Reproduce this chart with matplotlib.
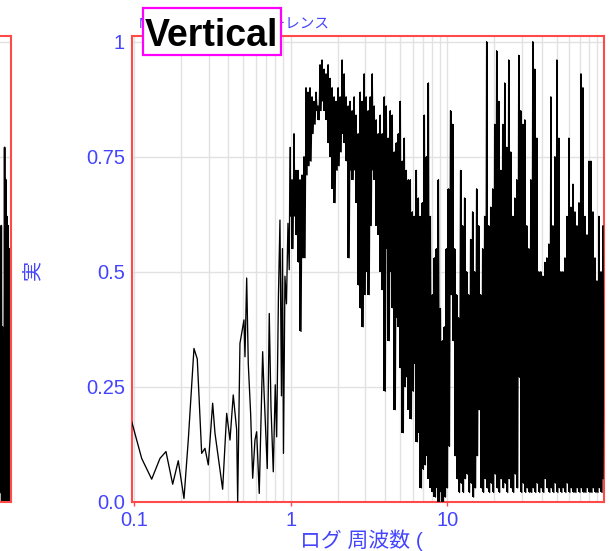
import numpy as np
import matplotlib
matplotlib.use("Agg")
import matplotlib.pyplot as plt
from matplotlib.patches import Rectangle
from matplotlib.ticker import LogLocator, NullFormatter, FixedLocator

plt.rcParams['font.family'] = ['Liberation Sans', 'Noto Sans CJK JP', 'DejaVu Sans']

# ---------------- data ----------------
# low-frequency part (individual points)
freq_low = [0.0967, 0.112, 0.1297, 0.1465, 0.160, 0.1766, 0.1917, 0.2085, 0.2221,
            0.2415, 0.2535, 0.2704, 0.2838, 0.298, 0.3178, 0.3288, 0.368, 0.3905,
            0.41, 0.4301, 0.4523, 0.459, 0.4747, 0.4868, 0.5035, 0.511, 0.524,
            0.5364, 0.5556, 0.5722, 0.5918, 0.6067, 0.6302, 0.6627, 0.6756, 0.7091,
            0.7302, 0.7487, 0.7745, 0.7975, 0.8142, 0.8359, 0.8546, 0.8736, 0.8866,
            0.8997, 0.9196, 0.9402, 0.9612, 0.9795]
coh_low = [0.174, 0.094, 0.049, 0.094, 0.109, 0.038, 0.089, 0.007, 0.134,
           0.333, 0.310, 0.105, 0.116, 0.080, 0.214, 0.149, 0.027, 0.192,
           0.134, 0.232, 0.156, 0.000, 0.344, 0.366, 0.395, 0.315, 0.486,
           0.300, 0.190, 0.051, 0.134, 0.152, 0.018, 0.326, 0.243, 0.072,
           0.409, 0.207, 0.065, 0.254, 0.141, 0.450, 0.612, 0.230, 0.550,
           0.105, 0.490, 0.430, 0.605, 0.504]

# dense part (1 Hz .. 100 Hz): successive peak / trough values
f_dense_start = 0.99
f_dense_end = 100.0
peaks = [
    0.77, 0.70, 0.80, 0.72, 0.72, 0.70, 0.71, 0.75, 0.90, 0.89,
    0.90, 0.88, 0.87, 0.89, 0.86, 0.95, 0.96, 0.94, 0.93, 0.95,
    0.92, 0.90, 0.88, 0.87, 0.90, 0.88, 0.96, 0.93, 0.88, 0.86,
    0.87, 0.85, 0.88, 0.84, 0.80, 0.89, 0.87, 0.93, 0.88, 0.85,
    0.88, 0.93, 0.86, 0.83, 0.80, 0.84, 0.80, 0.88, 0.86, 0.79,
    0.85, 0.84, 0.76, 0.78, 0.80, 0.87, 0.74, 0.79, 0.72, 0.70,
    0.70, 0.63, 0.62, 0.72, 0.66, 0.62, 0.65, 0.84, 0.75, 0.91,
    0.62, 0.45, 0.53, 0.55, 0.70, 0.42, 0.35, 0.38, 0.55, 0.68,
    0.85, 0.82, 0.55, 0.45, 0.40, 0.72, 0.60, 0.66, 0.50, 0.45,
    0.57, 0.63, 0.50, 0.68, 0.60, 0.45, 0.55, 0.62, 1.00, 0.60,
    0.64, 0.68, 0.82, 0.98, 0.87, 0.72, 0.82, 0.91, 0.77, 0.96,
    0.76, 0.62, 0.66, 0.70, 0.97, 0.85, 0.82, 0.83, 0.60, 0.55,
    0.70, 1.00, 0.94, 0.79, 0.50, 0.50, 0.49, 0.52, 0.53, 0.56,
    0.88, 0.60, 0.75, 0.96, 0.79, 0.50, 0.50, 0.53, 0.62, 0.79,
    0.64, 0.69, 0.63, 0.60, 0.65, 0.93, 0.90, 0.62, 0.58, 0.74,
    0.74, 0.63, 0.53, 0.48, 0.62, 0.50, 0.60]
troughs = [
    0.62, 0.55, 0.62, 0.58, 0.52, 0.37, 0.53, 0.53, 0.71, 0.73,
    0.74, 0.80, 0.82, 0.85, 0.83, 0.85, 0.87, 0.85, 0.83, 0.78,
    0.75, 0.68, 0.65, 0.72, 0.73, 0.76, 0.80, 0.78, 0.74, 0.53,
    0.72, 0.70, 0.72, 0.65, 0.47, 0.42, 0.38, 0.45, 0.50, 0.45,
    0.60, 0.72, 0.70, 0.60, 0.58, 0.50, 0.46, 0.24, 0.55, 0.35,
    0.50, 0.42, 0.20, 0.40, 0.38, 0.29, 0.15, 0.25, 0.27, 0.20,
    0.18, 0.24, 0.30, 0.13, 0.15, 0.03, 0.07, 0.08, 0.10, 0.05,
    0.03, 0.02, 0.01, 0.03, 0.00, 0.02, 0.00, 0.01, 0.03, 0.12,
    0.45, 0.35, 0.10, 0.05, 0.02, 0.04, 0.02, 0.05, 0.06, 0.02,
    0.04, 0.01, 0.03, 0.10, 0.20, 0.03, 0.02, 0.05, 0.03, 0.02,
    0.04, 0.02, 0.06, 0.03, 0.02, 0.05, 0.03, 0.04, 0.02, 0.05,
    0.03, 0.02, 0.06, 0.03, 0.27, 0.02, 0.04, 0.02, 0.03, 0.02,
    0.02, 0.03, 0.02, 0.04, 0.02, 0.03, 0.02, 0.05, 0.03, 0.02,
    0.03, 0.02, 0.04, 0.02, 0.03, 0.02, 0.03, 0.02, 0.04, 0.02,
    0.03, 0.02, 0.02, 0.03, 0.02, 0.03, 0.02, 0.02, 0.03, 0.02,
    0.02, 0.03, 0.02, 0.02, 0.03, 0.02, 0.05]

# neighbouring (cropped) panel, only its right edge is visible
left_x = [90.5, 91.0, 91.5, 92.0, 92.5, 93.0, 93.5, 94.0, 94.5, 95.0, 95.5,
          96.0, 96.5, 97.0, 97.5, 98.0, 98.5, 99.0, 99.5, 100.0]
left_vals = [0.55, 0.02, 0.60, 0.01, 0.38, 0.02, 0.36, 0.00, 0.77, 0.02,
             0.70, 0.01, 0.62, 0.03, 0.60, 0.01, 0.55, 0.02, 0.48, 0.02]

yticks = [0.0, 0.25, 0.5, 0.75, 1.0]
ytick_labels = ['0.0', '0.25', '0.5', '0.75', '1']
xticks = [0.1, 1, 10]
xtick_labels = ['0.1', '1', '10']
title_text = 'Vertical'
orig_title = 'Magnitude 二乗コヒーレンス'
xlabel_text = 'ログ 周波数 ('
ylabel_text = '実'

# ---------------- build series ----------------
dense_vals = np.ravel(np.column_stack([peaks, troughs]))
dense_freq = np.geomspace(f_dense_start, f_dense_end, len(dense_vals))
col_freq = dense_freq[::2]
freq = np.concatenate([freq_low, dense_freq])
coh = np.concatenate([coh_low, dense_vals])

# ---------------- figure ----------------
W, H = 609, 551
fig = plt.figure(figsize=(W / 100, H / 100), dpi=100)
blue = '#4444ff'
red = '#ff4a4a'
grid_c = '#e2e2e2'

# cropped neighbouring panel
ax0 = fig.add_axes([-100 / W, 49.3 / H, 110.7 / W, 465.7 / H])
ax0.plot(left_x, left_vals, color='black', lw=1.2)
ax0.fill_between(left_x, 0, [min(v, 0.4) for v in left_vals], color='black', lw=0)
ax0.set_xlim(0, 100)
ax0.set_ylim(0, 1.012)
ax0.set_yticks(yticks)
ax0.grid(axis='y', color=grid_c, lw=1)
ax0.set_xticks([])
ax0.tick_params(left=False, labelleft=False)
for s in ax0.spines.values():
    s.set_color(red)
    s.set_linewidth(1.5)

# main panel
ax = fig.add_axes([131.7 / W, 49.3 / H, 472.3 / W, 465.7 / H])
ax.fill_between(col_freq, troughs, peaks, step='mid', color='black', lw=0, zorder=3)
ax.plot(freq, coh, color='black', lw=0.95, zorder=3)
ax.set_xscale('log')
ax.set_xlim(0.0967, 100)
ax.set_ylim(0, 1.012)
ax.xaxis.set_major_locator(FixedLocator(xticks))
ax.set_xticklabels(xtick_labels)
ax.xaxis.set_minor_locator(LogLocator(base=10, subs=np.arange(2, 10)))
ax.xaxis.set_minor_formatter(NullFormatter())
ax.set_yticks(yticks)
ax.set_yticklabels(ytick_labels)
ax.grid(which='major', color=grid_c, lw=1)
ax.grid(which='minor', axis='x', color=grid_c, lw=1)
ax.set_axisbelow(True)
ax.tick_params(axis='x', which='major', length=3, width=1, color=red,
               labelsize=14.5, labelcolor=blue, pad=3.5)
ax.tick_params(axis='x', which='minor', length=0)
ax.tick_params(axis='y', length=0, labelsize=14.5, labelcolor=blue, pad=5)
for s in ax.spines.values():
    s.set_color(red)
    s.set_linewidth(1.5)

ax.set_xlabel(xlabel_text, fontsize=15, color=blue, ha='left', va='top')
ax.xaxis.set_label_coords((300 - 131.7) / 472.3, (501.7 - 529) / 465.7)
ax.set_ylabel(ylabel_text, fontsize=14.5, color=blue, rotation=90, va='center', ha='center')
ax.yaxis.set_label_coords((33 - 131.7) / 472.3, (501.7 - 270) / 465.7)

# original (blue) title, mostly hidden behind the label box
fig.text(139 / W, 1 - 24 / H, orig_title, color=blue, fontsize=10.5,
         ha='left', va='center', zorder=5)
# boxed label
box = Rectangle((143 / W, 1 - 55 / H), 138 / W, 47 / H, transform=fig.transFigure,
                fc='white', ec='#ff00ff', lw=1.6, zorder=9)
fig.patches.append(box)
fig.text(211.5 / W, 1 - 45.5 / H, title_text, fontsize=27, fontweight='bold',
         color='black', ha='center', va='baseline', zorder=10)

fig.savefig('out.png', dpi=100)
